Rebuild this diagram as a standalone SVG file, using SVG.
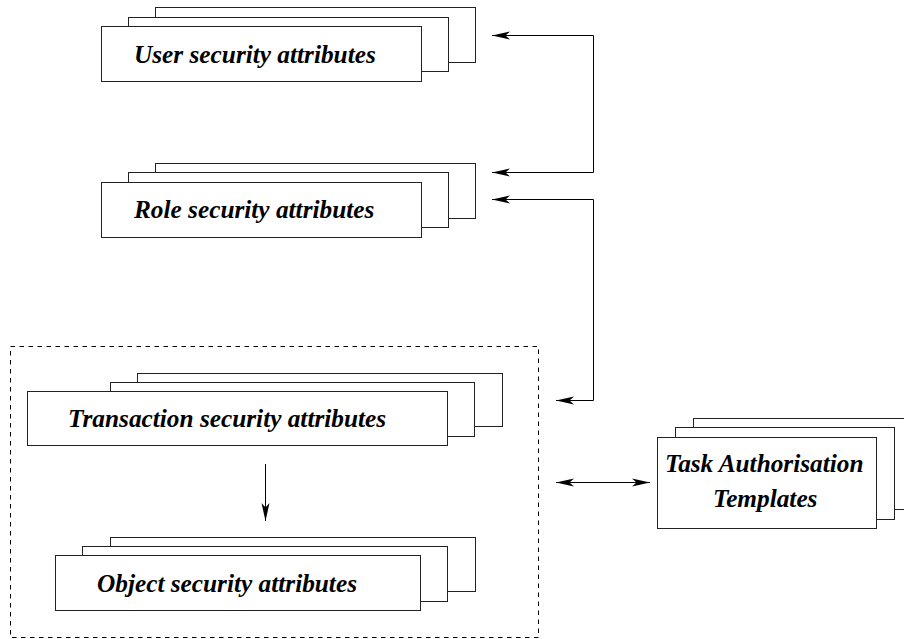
<svg xmlns="http://www.w3.org/2000/svg" width="904" height="639" viewBox="0 0 904 639">
  <style>
    .card { fill: #fff; stroke: #222; stroke-width: 1; }
    .label { font-family: "Liberation Serif", "Times New Roman", serif; font-weight: bold; font-style: italic; font-size: 25.3px; fill: #000; }
    .wire { fill: none; stroke: #000; stroke-width: 1; }
    .frame { fill: none; stroke: #000; stroke-width: 1; stroke-dasharray: 4.5 4.5; }
  </style>
  <defs>
    <marker id="head" markerUnits="userSpaceOnUse" orient="auto-start-reverse" refX="0" refY="0" markerWidth="20" markerHeight="10" overflow="visible">
      <path d="M0,0 L-18,-4 L-13.5,0 L-18,4 Z" fill="#000"/>
    </marker>
  </defs>

  <rect id="group-frame" class="frame" x="10.5" y="346.5" width="528" height="291"/>

  <g id="user-attrs">
    <rect class="card" x="155.5" y="7.5" width="320" height="55"/>
    <rect class="card" x="128.5" y="17.5" width="320" height="54"/>
    <rect class="card" x="101.5" y="26.5" width="320" height="55"/>
    <text class="label" x="134" y="63">User security attributes</text>
  </g>

  <g id="role-attrs">
    <rect class="card" x="155.5" y="163.5" width="320" height="55"/>
    <rect class="card" x="128.5" y="172.5" width="320" height="55"/>
    <rect class="card" x="101.5" y="182.5" width="320" height="55"/>
    <text class="label" x="134" y="218">Role security attributes</text>
  </g>

  <g id="transaction-attrs">
    <rect class="card" x="137.5" y="373.5" width="365" height="53"/>
    <rect class="card" x="110.5" y="382.5" width="364" height="54"/>
    <rect class="card" x="27.5" y="391.5" width="420" height="54"/>
    <text class="label" x="68" y="427">Transaction security attributes</text>
  </g>

  <g id="object-attrs">
    <rect class="card" x="110.5" y="537.5" width="365" height="54"/>
    <rect class="card" x="82.5" y="546.5" width="365" height="55"/>
    <rect class="card" x="55.5" y="555.5" width="365" height="55"/>
    <text class="label" x="97" y="592">Object security attributes</text>
  </g>

  <g id="task-templates">
    <rect class="card" x="693.5" y="418.5" width="220" height="91"/>
    <rect class="card" x="675.5" y="427.5" width="219" height="92"/>
    <rect class="card" x="657.5" y="437.5" width="219" height="91"/>
    <text class="label" x="665" y="472">Task Authorisation</text>
    <text class="label" x="713" y="507">Templates</text>
  </g>

  <g id="connectors">
    <polyline class="wire" points="492,35.5 593.5,35.5 593.5,172.5 492,172.5" marker-start="url(#head)" marker-end="url(#head)"/>
    <polyline class="wire" points="492,199.5 593.5,199.5 593.5,400.5 556,400.5" marker-start="url(#head)" marker-end="url(#head)"/>
    <line class="wire" x1="556" y1="482.5" x2="650" y2="482.5" marker-start="url(#head)" marker-end="url(#head)"/>
    <line class="wire" x1="265.5" y1="464" x2="265.5" y2="521" marker-end="url(#head)"/>
  </g>
</svg>
